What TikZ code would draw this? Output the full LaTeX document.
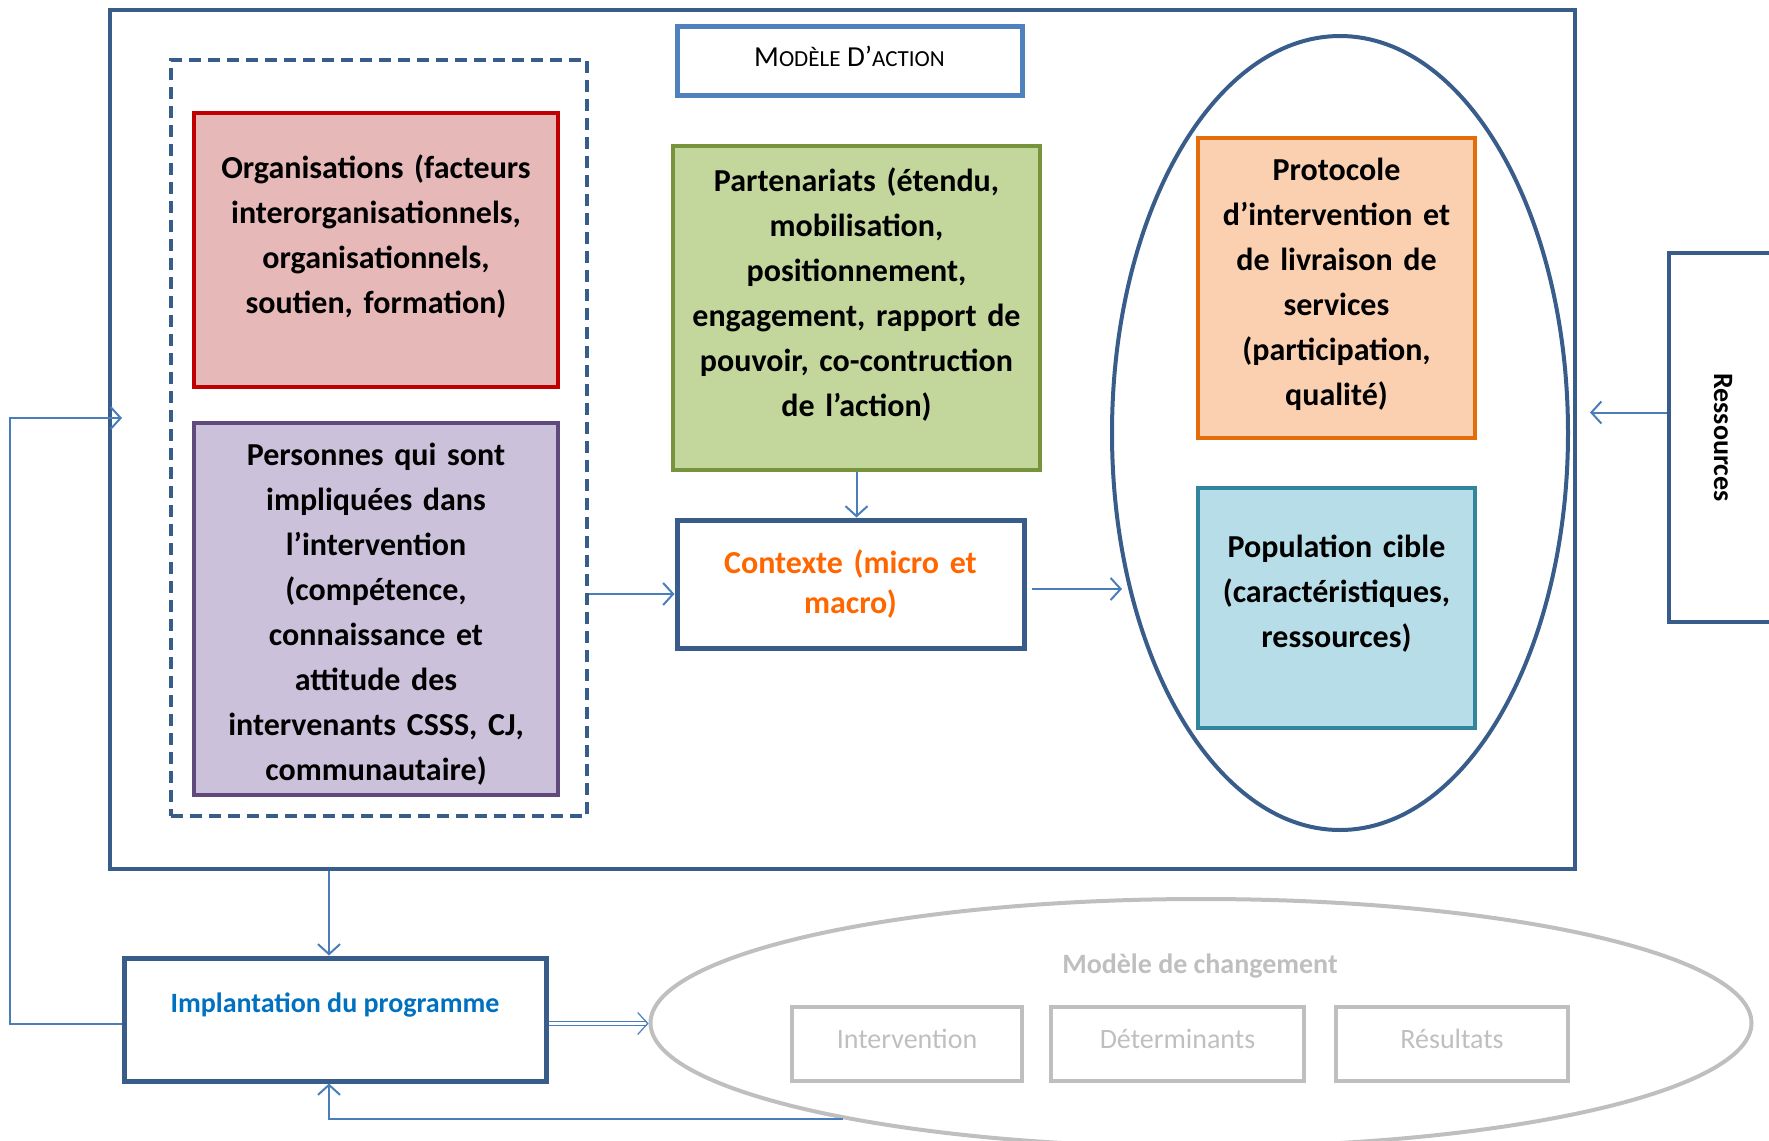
\documentclass[tikz,border=0pt]{standalone}
\usepackage{fontspec}
\setmainfont{Carlito}
\usepackage{tikz}
\usetikzlibrary{arrows.meta, shapes.geometric}
\definecolor{cadrebleu}{RGB}{56,93,138}
\definecolor{titrebleu}{RGB}{79,129,189}
\definecolor{flechebleu}{RGB}{74,126,187}
\definecolor{rougefond}{RGB}{230,185,184}
\definecolor{rougetrait}{RGB}{192,0,0}
\definecolor{violetfond}{RGB}{204,193,218}
\definecolor{violettrait}{RGB}{96,74,123}
\definecolor{vertfond}{RGB}{195,214,155}
\definecolor{verttrait}{RGB}{119,147,60}
\definecolor{orangefond}{RGB}{251,208,176}
\definecolor{orangetrait}{RGB}{228,108,10}
\definecolor{cyanfond}{RGB}{183,222,232}
\definecolor{cyantrait}{RGB}{49,133,156}
\definecolor{contexteorange}{RGB}{255,102,0}
\definecolor{implbleu}{RGB}{0,112,192}
\definecolor{gris}{RGB}{191,191,191}
\tikzset{
>={Straight Barb[length=5pt,width=11pt]},
  bloc/.style={
    rectangle,
    draw, line width=2.2pt,
    font=\bfseries\fontsize{16}{22.5}\selectfont,
    text width=165pt,
    align=center,
    inner sep=0pt},
  remonte/.style={text height=12pt, text depth=#1},
  cadre/.style={
    rectangle,
    draw=cadrebleu, line width=2.3pt,
    inner sep=0pt},
  pointille/.style={
    cadre,
    line width=2pt,
    dash pattern=on 6pt off 3.5pt},
  titre/.style={
    rectangle,
    draw=titrebleu, line width=2.5pt,
    % fill=white,
    font=\fontsize{14.5}{17}\selectfont,
    inner sep=0pt},
  ovale/.style={
    ellipse,
    draw=cadrebleu, line width=2pt,
    inner sep=0pt},
  gristexte/.style={
    text=gris,
    font=\fontsize{14}{17}\selectfont},
  grisboite/.style={
    rectangle,
    draw=gris, line width=2pt,
    gristexte,
    text height=10pt, text depth=6pt,
    minimum height=37pt,
    inner sep=0pt},
  fleche/.style={draw=flechebleu, line width=1pt, ->},
}
\newcommand{\petitcap}[1]{{\fontsize{11.5}{13}\selectfont #1}}

\begin{document}
\begin{tikzpicture}[x=0.5pt, y=-0.5pt]
     \useasboundingbox (0,0) rectangle (1769,1141);
     % modele d'action
     \node[cadre, minimum width=732.5pt, minimum height=429.5pt] (action) at (842.5,439.5) {};
     \node[titre, text depth=4pt, minimum width=172.5pt, minimum height=34.5pt] (titre) at (849.5,60.5)
          {M\petitcap{ODÈLE} D’\petitcap{ACTION}};
     \node[pointille, minimum width=208pt, minimum height=378pt] (groupe) at (379,438) {};
     \node[bloc, remonte=84pt, draw=rougetrait, fill=rougefond, minimum width=182pt, minimum height=137pt] (organisations) at (376,250)
          {Organisations (facteurs\\ interorganisationnels,\\ organisationnels,\\ soutien, formation)};
     \node[bloc, remonte=156pt, draw=violettrait, fill=violetfond, minimum width=182pt, minimum height=186pt] (personnes) at (376,609)
          {Personnes qui sont\\ impliquées dans\\ l’intervention\\ (compétence,\\ connaissance et\\ attitude des\\ intervenants CSSS, CJ,\\ communautaire)};
     \node[bloc, remonte=129pt, draw=verttrait, fill=vertfond, minimum width=183.5pt, minimum height=162pt] (partenariats) at (856.5,308)
          {Partenariats (étendu,\\ mobilisation,\\ positionnement,\\ engagement, rapport de\\ pouvoir, co-contruction\\ de l’action)};
     \node[bloc, draw=cadrebleu, line width=2.5pt, text=contexteorange, font=\bfseries\fontsize{16}{20}\selectfont,
           minimum width=173.5pt, minimum height=64pt] (contexte) at (850.5,584)
          {Contexte (micro et\\ macro)};
     \node[ovale, minimum width=228pt, minimum height=397pt] (cible) at (1340,433) {};
     \node[bloc, remonte=120pt, draw=orangetrait, fill=orangefond, text width=130pt, minimum width=138.5pt, minimum height=150pt] (protocole) at (1336.5,288)
          {Protocole\\ d’intervention et\\ de livraison de\\ services\\ (participation,\\ qualité)};
     \node[bloc, remonte=62.5pt, draw=cyantrait, fill=cyanfond, text width=130pt, minimum width=138.5pt, minimum height=120pt] (population) at (1336.5,608)
          {Population cible\\ (caractéristiques,\\ ressources)};
     \node[cadre, rotate=-90, font=\bfseries\fontsize{14}{17}\selectfont,
           minimum width=184.5pt, minimum height=54pt] (ressources) at (1723,437.5) {Ressources};
     % implantation et modele de changement
     \node[cadre, line width=2.5pt, text=implbleu, font=\bfseries\fontsize{14}{17}\selectfont, text depth=16.5pt,
           minimum width=211pt, minimum height=61.5pt] (implantation) at (335,1019.5) {Implantation du programme};
     \node[ellipse, draw=gris, line width=2pt, minimum width=550.5pt, minimum height=124pt, inner sep=0pt] (changement) at (1201,1023) {};
     \node[gristexte, font=\bfseries\fontsize{14}{17}\selectfont] (titrechangement) at (1200,966) {Modèle de changement};
     \node[grisboite, minimum width=115pt] (intervention) at (907,1044) {Intervention};
     \node[grisboite, minimum width=126.5pt] (determinants) at (1177.5,1044) {Déterminants};
     \node[grisboite, minimum width=116pt] (resultats) at (1452,1044) {Résultats};
     \coordinate (retour) at (122,418);
     % connecteurs
     \draw[fleche] ([yshift=-5pt]groupe.east |- contexte.west) -- ([yshift=-5pt]contexte.west);
     \draw[fleche] (partenariats.south) -- (partenariats.south |- contexte.north);
     \draw[fleche] ([xshift=2.5pt, yshift=-2.5pt]contexte.east) -- ([xshift=6pt, yshift=-2.5pt]cible.west |- contexte.east);
     \draw[fleche, shorten >=10pt] ([yshift=12.5pt]ressources.south) -- ([yshift=12.5pt]cible.east |- ressources.south);
     \draw[fleche] ([xshift=-3pt]implantation.north |- action.south) -- ([xshift=-3pt]implantation.north);
     \draw[fleche] ([yshift=-2pt]implantation.west) -| (10,418) -- (retour);
     \draw[fleche, double=white, double distance=1.2pt, line width=0.6pt] ([yshift=-2pt]implantation.east) -- ([yshift=-2pt]implantation.east -| changement.west);
     \draw[fleche] (changement.195) -| ([xshift=-3pt]implantation.south);
\end{tikzpicture}
\end{document}
